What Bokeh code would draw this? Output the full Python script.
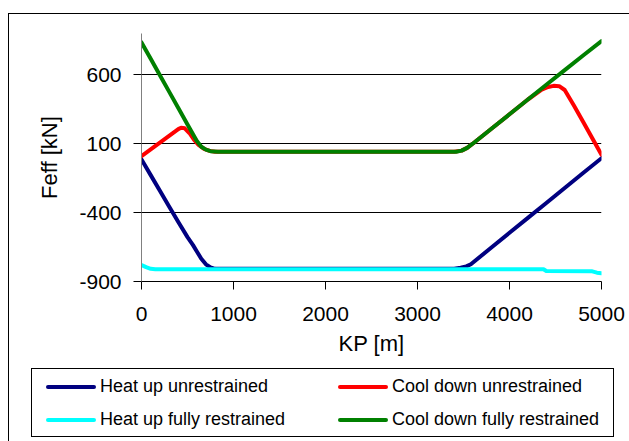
from bokeh.plotting import figure
from bokeh.layouts import column
from bokeh.models import Range1d, FixedTicker, Div, PrintfTickFormatter
from bokeh.embed import file_html
from bokeh.resources import INLINE

# KP [m] and Feff [kN] values
heat_unr_kp = [0, 100, 200, 300, 400, 500, 560, 600, 650, 700, 750, 800, 3400, 3470, 3530, 3580,
               3800, 4000, 4200, 4400, 4600, 4800, 5000]
heat_unr_f = [-14, -128, -242, -356, -468, -578, -636, -680, -735, -775, -798, -808, -808, -800, -790, -775,
              -655, -546, -438, -330, -221, -113, -5]

cool_unr_kp = [0, 100, 200, 300, 400, 430, 470, 520, 570, 620, 680, 740, 800, 3400, 3480, 3540, 3600,
               3800, 4000, 4200, 4350, 4420, 4480, 4540, 4600, 4700, 4800, 4900, 5000]
cool_unr_f = [10, 59, 108, 157, 206, 216, 212, 178, 130, 92, 62, 48, 42, 42, 50, 70, 100,
              207, 314, 421, 492, 512, 520, 518, 490, 378, 260, 140, 20]

heat_fr_kp = [0, 50, 100, 150, 4370, 4400, 4900, 4950, 5000]
heat_fr_f = [-780, -796, -808, -811, -811, -824, -826, -836, -840]

cool_fr_kp = [0, 100, 200, 300, 400, 500, 600, 650, 700, 750, 830, 3420, 3480, 3540, 3600,
              3800, 4000, 4200, 4400, 4600, 4800, 5000]
cool_fr_f = [835, 716, 597, 478, 359, 240, 121, 78, 57, 46, 42, 42, 50, 70, 100,
             207, 314, 421, 528, 634, 740, 845]

series_labels = ["Heat up unrestrained", "Cool down unrestrained",
                 "Heat up fully restrained", "Cool down fully restrained"]
series_colors = ["#000080", "#FF0000", "#00FFFF", "#008000"]

x_ticks = [0, 1000, 2000, 3000, 4000, 5000]
y_ticks = [-900, -400, 100, 600]

FONT = "Liberation Sans"

p = figure(width=620, height=348, output_backend="svg", toolbar_location=None,
           x_range=Range1d(0, 5000), y_range=Range1d(-900, 900),
           min_border_left=132, min_border_right=28, min_border_top=19, min_border_bottom=81,
           margin=0)
p.background_fill_color = "white"
p.border_fill_color = "white"
p.outline_line_color = None

p.xgrid.grid_line_color = None
p.ygrid.grid_line_color = "black"
p.ygrid.grid_line_width = 1
p.ygrid.ticker = FixedTicker(ticks=y_ticks)

p.xaxis.ticker = FixedTicker(ticks=x_ticks)
p.yaxis.ticker = FixedTicker(ticks=y_ticks)
p.xaxis.formatter = PrintfTickFormatter(format="%d")
p.yaxis.formatter = PrintfTickFormatter(format="%d")
for ax in (p.xaxis, p.yaxis):
    ax.major_label_text_font = FONT
    ax.major_label_text_font_size = "21px"
    ax.major_label_text_color = "black"
    ax.axis_label_text_font = FONT
    ax.axis_label_text_font_size = "22px"
    ax.axis_label_text_font_style = "normal"
    ax.axis_label_text_color = "black"
    ax.major_tick_in = 0
    ax.major_tick_out = 8
    ax.major_tick_line_color = "black"
    ax.minor_tick_line_color = None

p.xaxis.axis_line_color = "black"
p.yaxis.axis_line_color = "#808080"
p.xaxis.axis_label = "KP [m]"
p.yaxis.axis_label = "Feff [kN]"
p.xaxis.major_label_standoff = 17
p.xaxis.axis_label_standoff = 7
p.yaxis.major_label_standoff = 12
p.yaxis.axis_label_standoff = 14

xs = [heat_unr_kp, cool_unr_kp, heat_fr_kp, cool_fr_kp]
ys = [heat_unr_f, cool_unr_f, heat_fr_f, cool_fr_f]
for x, y, c in zip(xs, ys, series_colors):
    p.line(x, y, line_color=c, line_width=4, line_join="round", line_cap="round")

# legend underneath the chart (2 x 2 grid, row-major: heat/cool per row)
col_x = [37, 329]
row_y = [25, 58]
legend_pos = [(0, 0), (0, 1), (1, 0), (1, 1)]  # (row, col) for each series
parts = ['<div style="position:relative;width:620px;height:79px;'
         'font-family:\'Liberation Sans\',Arial,sans-serif;font-size:18px;color:black;">',
         '<div style="position:absolute;left:22px;top:6px;width:583px;height:69px;'
         'box-sizing:border-box;border:1px solid black;"></div>']
for (r, c), lab, colr in zip(legend_pos, series_labels, series_colors):
    parts.append('<div style="position:absolute;left:%dpx;top:%dpx;width:50px;height:4px;'
                 'background:%s;border-radius:2px;"></div>' % (col_x[c], row_y[r] - 2, colr))
    parts.append('<div style="position:absolute;left:%dpx;top:%dpx;height:20px;line-height:20px;'
                 'white-space:nowrap;">%s</div>' % (col_x[c] + 54, row_y[r] - 11, lab))
parts.append('</div>')
legend_div = Div(text="".join(parts), width=620, height=79, margin=0)

layout = column(p, legend_div, margin=(13, 0, 0, 8), spacing=0,
                styles={"border-left": "1px solid black", "border-top": "1px solid black"})

open("out.html", "w").write(file_html(layout, INLINE))
